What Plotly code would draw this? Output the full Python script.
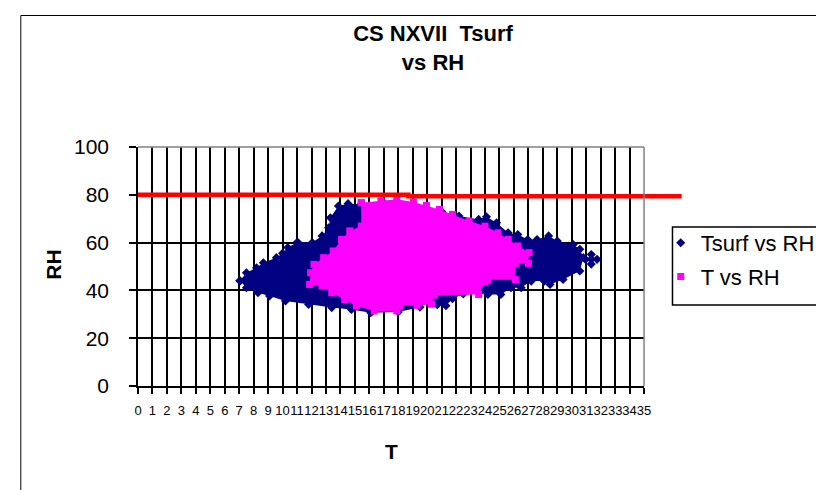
import plotly.graph_objects as go

# ---------------- data ----------------
x_tick_vals = list(range(0, 36))
x_tick_text = ["0", "1", "2", "3", "4", "5", "6", "7", "8", "9", "10", "11",
               "12", "13", "14", "15", "16", "17", "18", "19", "20", "21", "22", "23",
               "24", "25", "26", "27", "28", "29", "30", "31", "32", "33", "34", "35"]
y_tick_vals = [0, 20, 40, 60, 80, 100]
y_tick_text = ["0", "20", "40", "60", "80", "100"]

# Tsurf vs RH : outline of the dense point cloud (T, RH)
tsurf_T = [7.05, 7.5, 8.2, 8.67, 9.57, 10.0, 10.36, 11.03, 12.05, 12.73, 13.18, 13.3,
           13.86, 14.53, 15.44, 17.0, 19.0, 21.0, 22.2, 23.56, 24.1, 24.8, 25.6, 26.27,
           26.95, 27.6, 28.4, 29.0, 30.1, 30.56, 30.8, 30.56, 29.4, 28.5, 28.1, 27.2,
           26.5, 25.8, 25.1, 24.2, 23.6, 22.5, 21.75, 21.3, 20.7, 20.4, 19.5, 18.0,
           16.1, 14.76, 13.4, 11.8, 10.2, 9.1, 8.3, 7.5, 7.05]
tsurf_RH = [44.0, 47.4, 49.5, 51.6, 53.7, 55.5, 57.9, 60.2, 60.0, 62.8, 66.2, 70.4,
            75.3, 76.3, 76.0, 76.5, 75.5, 73.0, 71.1, 69.7, 70.8, 68.3, 64.1, 63.4,
            61.3, 61.3, 62.8, 60.7, 59.2, 57.2, 53.7, 48.1, 44.6, 42.5, 43.9, 43.9,
            41.1, 41.1, 38.3, 38.3, 39.0, 38.5, 36.5, 33.6, 34.0, 36.0, 33.0, 31.0,
            30.7, 32.0, 32.8, 34.1, 35.6, 37.7, 39.0, 41.1, 44.0]
# small separate group of Tsurf points on the right
tsurf_extra_T = [30.95, 31.35, 31.75, 31.35, 31.35]
tsurf_extra_RH = [53.0, 55.0, 53.0, 51.0, 53.0]

# T vs RH : outline of the dense point cloud (T, RH)
t_T = [15.44, 16.8, 17.9, 19.05, 19.95, 20.85, 21.75, 22.9, 24.0, 24.9, 25.6, 26.27,
       27.05, 27.0, 26.1, 26.1, 24.2, 24.0, 23.56, 20.5, 20.3, 19.3, 18.1, 17.9,
       16.34, 15.1, 14.3, 13.4, 12.73, 11.87, 11.94, 12.17, 12.84, 13.5, 14.08, 14.65,
       15.44, 15.44]
t_RH = [76.7, 77.4, 78.1, 77.0, 75.6, 73.9, 71.8, 69.0, 66.9, 64.1, 61.3, 58.6,
        55.8, 51.3, 51.3, 44.5, 44.5, 43.5, 38.3, 38.0, 34.2, 33.8, 33.5, 31.4,
        31.4, 33.5, 36.2, 39.0, 41.8, 42.5, 47.4, 50.9, 53.7, 56.5, 61.3, 64.9,
        66.9, 76.7]

# RH = 80 reference line
limit_T = [0, 18.7, 18.7, 37.6]
limit_RH = [80, 80, 79.4, 79.4]

NAVY = "#000080"
MAGENTA = "#FF00FF"
RED = "#FF0000"
FONT = "Liberation Sans, Arial, sans-serif"

# ---------------- geometry ----------------
W, H = 824, 490
ML, MR, MT, MB = 130, 124, 139, 112
PW = W - ML - MR          # 570
PH = H - MT - MB          # 239
main_right_px = 646
main_dom = (main_right_px - ML) / PW
x_max = 35
x2_max = x_max / main_dom


def px_x(p):
    return (p - ML) / PW


def px_y(p):
    return (H - MB - p) / PH


fig = go.Figure()

# Tsurf vs RH
fig.add_trace(go.Scatter(x=tsurf_T, y=tsurf_RH, mode="lines", fill="toself",
                         fillcolor=NAVY, line=dict(width=0, color=NAVY),
                         legendgroup="tsurf", showlegend=False, hoverinfo="skip"))
fig.add_trace(go.Scatter(x=tsurf_T + tsurf_extra_T, y=tsurf_RH + tsurf_extra_RH,
                         mode="markers", name="Tsurf vs RH", legendgroup="tsurf",
                         marker=dict(symbol="diamond", size=7, color=NAVY)))
# T vs RH
fig.add_trace(go.Scatter(x=t_T, y=t_RH, mode="lines", fill="toself",
                         fillcolor=MAGENTA, line=dict(width=0, color=MAGENTA),
                         legendgroup="t", showlegend=False, hoverinfo="skip"))
fig.add_trace(go.Scatter(x=t_T, y=t_RH, mode="markers", name="T vs RH",
                         legendgroup="t",
                         marker=dict(symbol="square", size=7, color=MAGENTA)))
# RH limit line (extends past the plot area, as in the original)
fig.add_trace(go.Scatter(x=limit_T, y=limit_RH, mode="lines", xaxis="x2", yaxis="y2",
                         line=dict(color=RED, width=4.5), showlegend=False,
                         hoverinfo="skip"))

shapes = [
    # gray plot-area border (top / right)
    dict(type="line", xref="x domain", yref="y domain", x0=0, x1=1, y0=1, y1=1,
         line=dict(color="#808080", width=1.5), layer="above"),
    dict(type="line", xref="x domain", yref="y domain", x0=1, x1=1, y0=0, y1=1,
         line=dict(color="#808080", width=1.5), layer="above"),
    # legend box
    dict(type="rect", xref="paper", yref="paper",
         x0=px_x(675), x1=px_x(840), y0=px_y(297), y1=px_y(219),
         line=dict(color="black", width=1.5), fillcolor="rgba(0,0,0,0)"),
    # outer chart border
    dict(type="rect", xref="paper", yref="paper",
         x0=px_x(10.5), x1=px_x(840), y0=px_y(510), y1=px_y(7.5),
         line=dict(color="black", width=1), fillcolor="rgba(0,0,0,0)"),
]

annotations = [
    dict(text="<b>RH</b>", x=px_x(43), y=px_y(257), xref="paper", yref="paper",
         xanchor="center", yanchor="middle",
         showarrow=False, textangle=-90, font=dict(family=FONT, size=21, color="black")),
    dict(text="<b>T</b>", x=px_x(388), y=px_y(443), xref="paper", yref="paper",
         xanchor="center", yanchor="middle",
         showarrow=False, font=dict(family=FONT, size=21, color="black")),
]

fig.update_layout(
    width=W, height=H,
    margin=dict(l=ML, r=MR, t=MT, b=MB),
    paper_bgcolor="white", plot_bgcolor="rgba(0,0,0,0)",
    title=dict(text="<b>CS NXVII  Tsurf</b><br><b>vs RH</b>", x=425 / W, xanchor="center",
               y=1 - 33 / H, yanchor="top", yref="container",
               font=dict(family=FONT, size=22, color="black")),
    xaxis=dict(domain=[0, main_dom], range=[0, x_max], tickmode="array",
               tickvals=x_tick_vals, ticktext=x_tick_text, tickangle=0,
               showgrid=True, gridcolor="black", gridwidth=1.5,
               showline=True, linecolor="black", linewidth=1.5,
               ticks="outside", ticklen=6, tickwidth=1.5, tickcolor="black",
               ticklabelstandoff=6, zeroline=False,
               tickfont=dict(family=FONT, size=13, color="black")),
    xaxis2=dict(domain=[0, 1], range=[0, x2_max], anchor="y2", visible=False),
    yaxis2=dict(domain=[0, 1], range=[0, 100], anchor="x2", visible=False),
    yaxis=dict(range=[0, 100], tickmode="array", tickvals=y_tick_vals,
               ticktext=y_tick_text, showgrid=True, gridcolor="black", gridwidth=1.5,
               showline=True, linecolor="black", linewidth=1.5,
               ticks="outside", ticklen=7, tickwidth=1.5, tickcolor="black",
               ticklabelstandoff=16, zeroline=False,
               tickfont=dict(family=FONT, size=21, color="black")),
    legend=dict(x=px_x(663), y=px_y(214), xanchor="left", yanchor="top",
                bgcolor="rgba(0,0,0,0)", borderwidth=0, traceorder="grouped",
                tracegroupgap=2, itemwidth=30,
                font=dict(family=FONT, size=22, color="black")),
    shapes=shapes, annotations=annotations,
    showlegend=True,
)

fig.write_html("out.html")
